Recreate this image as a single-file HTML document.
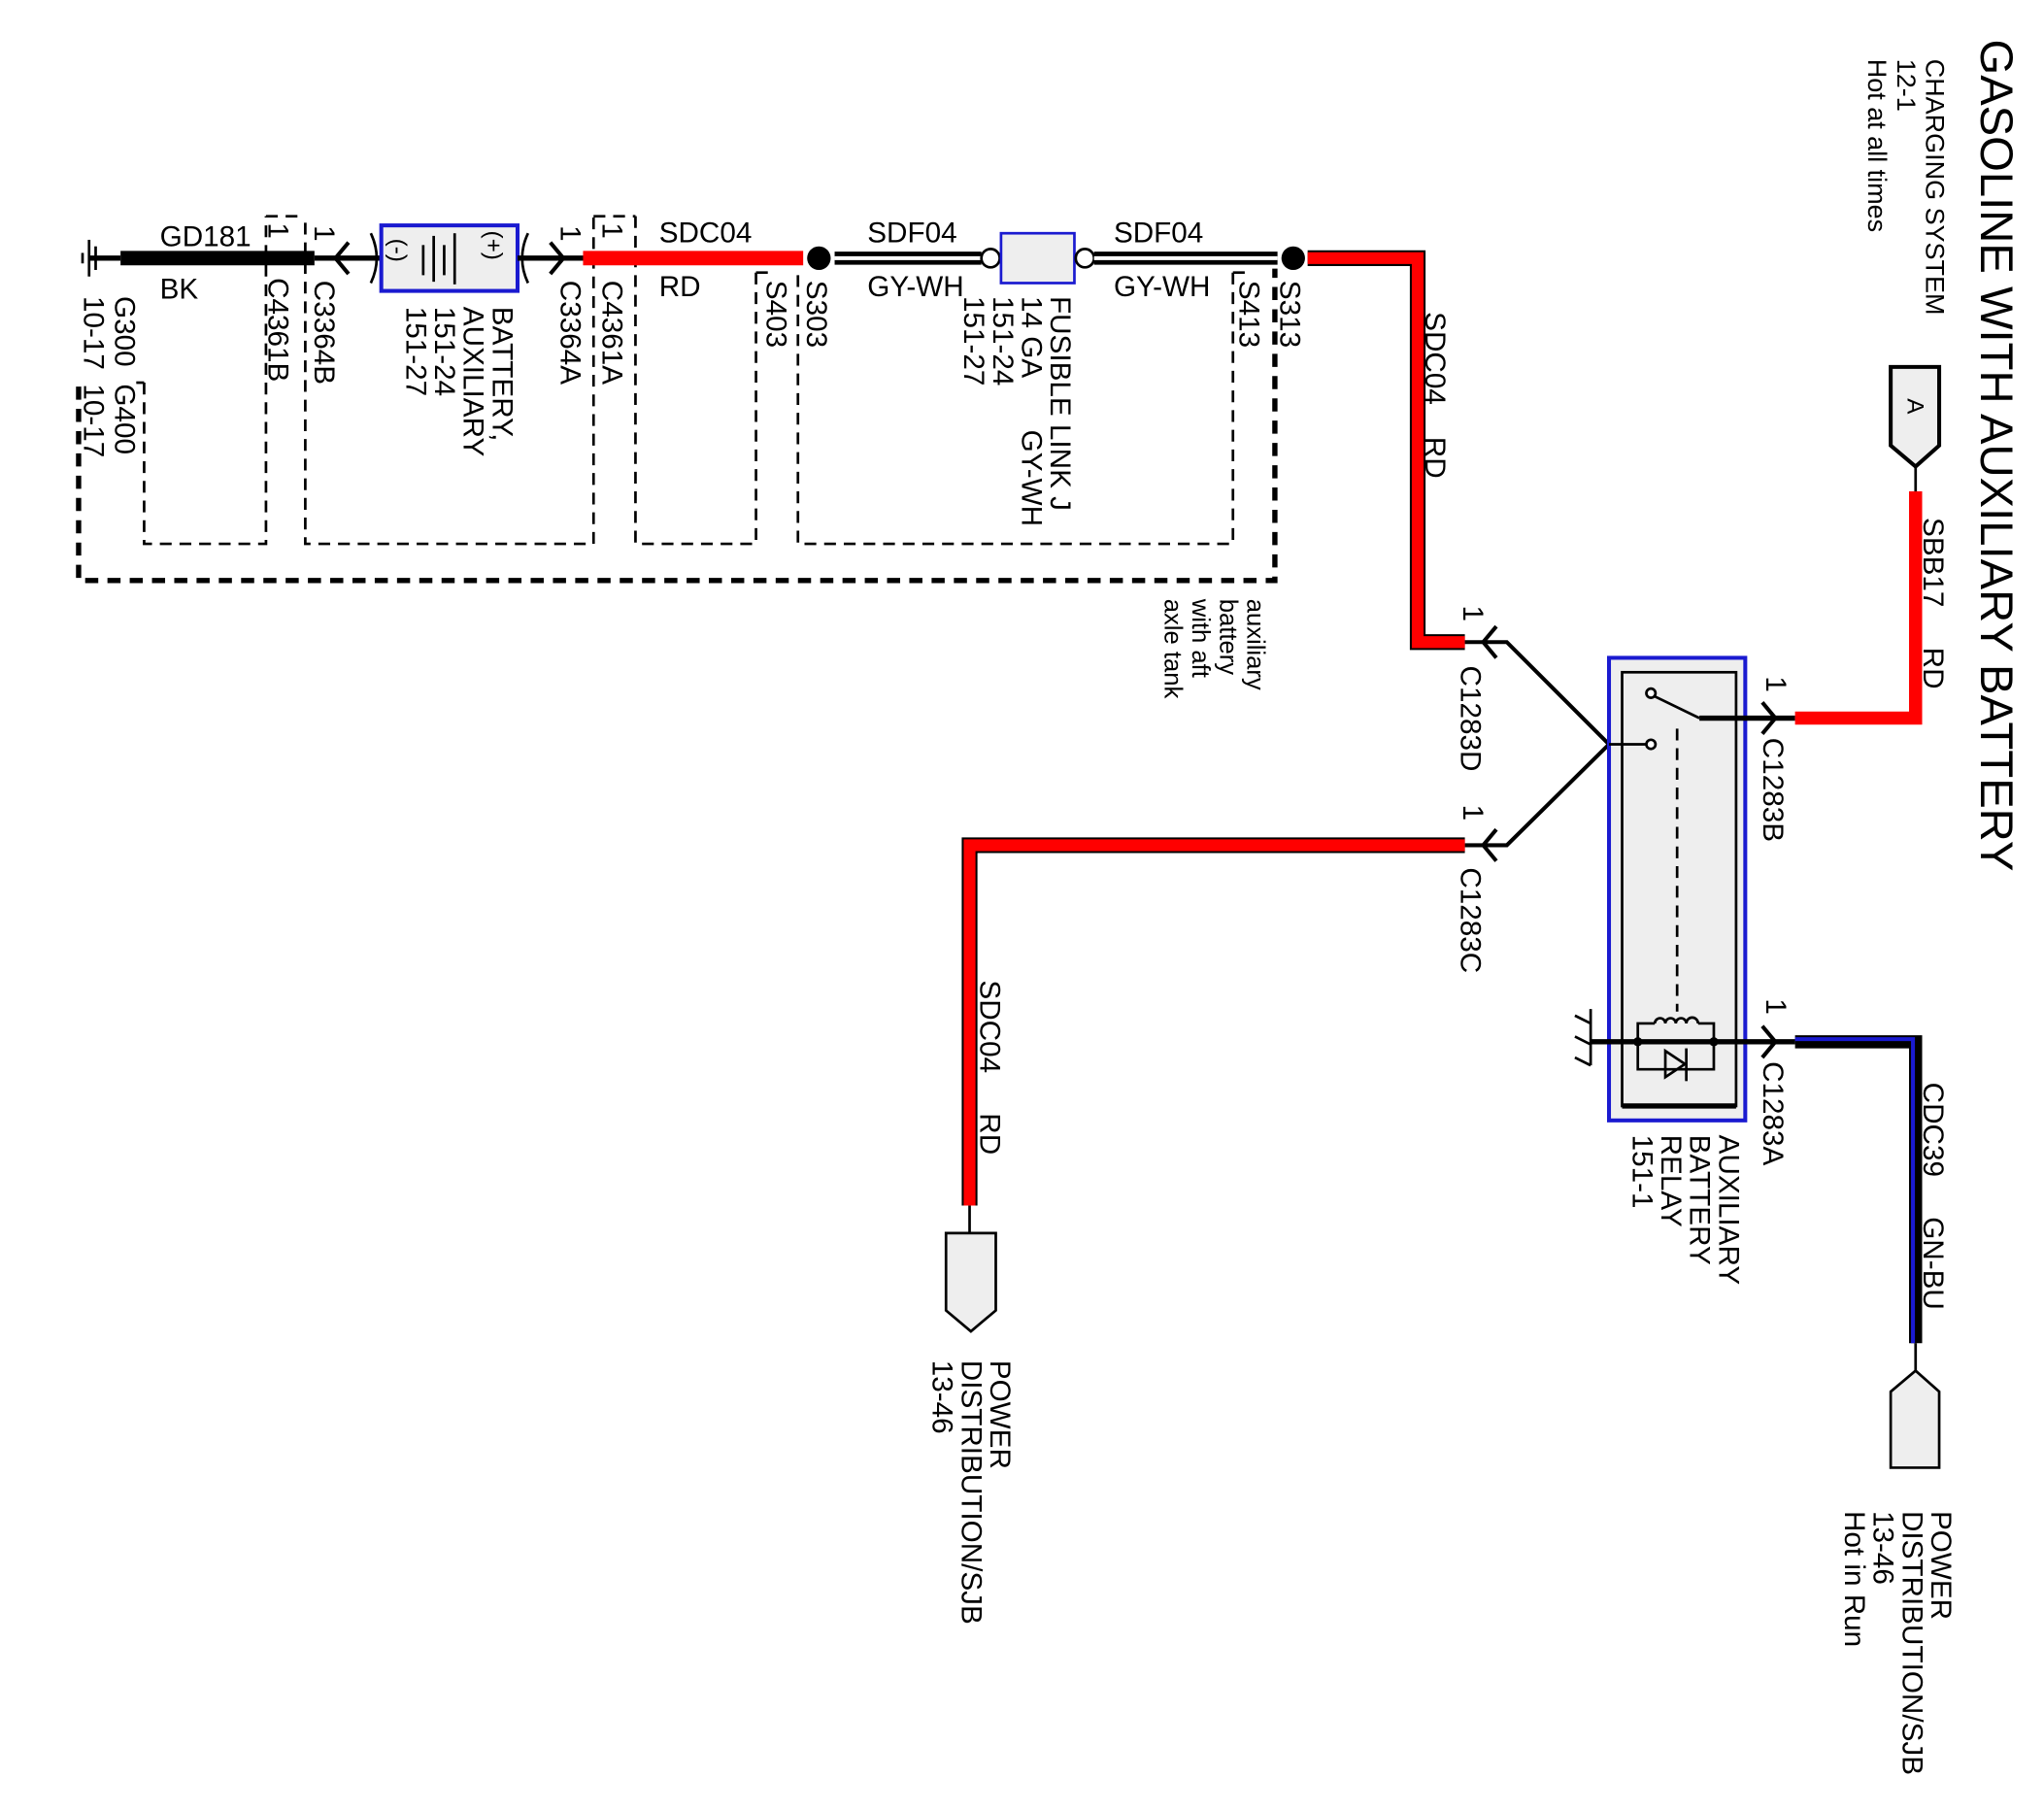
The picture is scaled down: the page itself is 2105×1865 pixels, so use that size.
<!DOCTYPE html>
<html><head><meta charset="utf-8"><style>
html,body{margin:0;padding:0;background:#fff;}
svg{display:block;}
text{font-family:"Liberation Sans",Arial,sans-serif;fill:#000;white-space:pre;}
</style></head><body>
<svg width="2105" height="1865" viewBox="0 0 1560 1382" preserveAspectRatio="none" xmlns="http://www.w3.org/2000/svg" font-size="22" xml:space="preserve">
<rect width="1560" height="1382" fill="#fff"/>
<g fill="none" stroke="#000" stroke-width="2" stroke-dasharray="9,6">
<path d="M110,292 V415 H203 V165"/>
<path d="M233,170 V415 H453 V165"/>
<path d="M485,165 V415 H577 V208"/>
<path d="M609,210 V415 H941 V208"/>
<path d="M203,165 H233 M453,165 H485 M577,208 H590 M941,208 H950"/>
</g>
<path d="M60,295 V443 H973 V205" fill="none" stroke="#000" stroke-width="4" stroke-dasharray="10,7"/>
<path d="M110,292 H104" stroke="#000" stroke-width="2"/>
<g stroke="#000" stroke-width="2">
<line x1="68" y1="183" x2="68" y2="211"/><line x1="73" y1="188" x2="73" y2="206"/><line x1="63" y1="193" x2="63" y2="201"/>
<line x1="68" y1="197" x2="92" y2="197" stroke-width="4"/>
</g>
<line x1="92" y1="197" x2="240" y2="197" stroke="#000" stroke-width="11"/>
<line x1="240" y1="197" x2="292" y2="197" stroke="#000" stroke-width="4"/>
<path d="M266,185 L256,197 L266,209" fill="none" stroke="#000" stroke-width="3"/>
<path d="M283,178 Q292,197 283,216" fill="none" stroke="#000" stroke-width="2"/>
<rect x="291" y="172" width="104" height="50" fill="#eee" stroke="#1a1ad0" stroke-width="3"/>
<g stroke="#000" stroke-width="2">
<line x1="323" y1="187" x2="323" y2="210"/><line x1="331" y1="180" x2="331" y2="215"/><line x1="339" y1="187" x2="339" y2="210"/><line x1="347" y1="178" x2="347" y2="217"/>
</g>
<text transform="translate(298,182) rotate(90)" font-size="18">(-)</text>
<text transform="translate(371,176) rotate(90)" font-size="18">(+)</text>
<line x1="395" y1="197" x2="447" y2="197" stroke="#000" stroke-width="4"/>
<path d="M403,178 Q394,197 403,216" fill="none" stroke="#000" stroke-width="2"/>
<path d="M420,185 L430,197 L420,209" fill="none" stroke="#000" stroke-width="3"/>
<line x1="445" y1="197" x2="613" y2="197" stroke="#f00" stroke-width="11"/>
<circle cx="625" cy="197" r="9" fill="#000"/>
<line x1="637" y1="197" x2="749" y2="197" stroke="#000" stroke-width="10"/>
<line x1="637" y1="197" x2="749" y2="197" stroke="#fff" stroke-width="3"/>
<circle cx="756" cy="197" r="7" fill="#fff" stroke="#000" stroke-width="2"/>
<rect x="764" y="178" width="56" height="38" fill="#eee" stroke="#1a1ad0" stroke-width="2"/>
<circle cx="828" cy="197" r="7" fill="#fff" stroke="#000" stroke-width="2"/>
<line x1="835" y1="197" x2="975" y2="197" stroke="#000" stroke-width="10"/>
<line x1="835" y1="197" x2="975" y2="197" stroke="#fff" stroke-width="3"/>
<circle cx="987" cy="197" r="9" fill="#000"/>
<path d="M998,197 H1082 V490 H1118" fill="none" stroke="#000" stroke-width="12"/>
<path d="M998,197 H1082 V490 H1118" fill="none" stroke="#f00" stroke-width="9"/>
<g fill="none" stroke="#000" stroke-width="3">
<path d="M1118,490 H1150 L1228,568 L1150,645 H1118"/>
<path d="M1142,478 L1132,490 L1142,502"/>
<path d="M1142,633 L1132,645 L1142,657"/>
</g>
<path d="M1118,645 H740 V920" fill="none" stroke="#000" stroke-width="12"/>
<path d="M1118,645 H740 V920" fill="none" stroke="#f00" stroke-width="9"/>
<line x1="740" y1="920" x2="740" y2="941" stroke="#000" stroke-width="2"/>
<path d="M722,941 H760 V1000 L741,1016 L722,1000 Z" fill="#eee" stroke="#000" stroke-width="2"/>
<rect x="1228" y="502" width="104" height="353" fill="#eee" stroke="#1a1ad0" stroke-width="3"/>
<rect x="1238" y="513" width="87" height="331" fill="#eee" stroke="#000" stroke-width="2"/>
<line x1="1238" y1="844" x2="1325" y2="844" stroke="#000" stroke-width="4"/>
<circle cx="1260" cy="529" r="3.5" fill="#fff" stroke="#000" stroke-width="2"/>
<line x1="1262" y1="531" x2="1297" y2="548" stroke="#000" stroke-width="2"/>
<line x1="1228" y1="568" x2="1257" y2="568" stroke="#000" stroke-width="2"/>
<circle cx="1260" cy="568" r="3.5" fill="#fff" stroke="#000" stroke-width="2"/>
<line x1="1297" y1="548" x2="1370" y2="548" stroke="#000" stroke-width="4"/>
<path d="M1345,536 L1355,548 L1345,560" fill="none" stroke="#000" stroke-width="3"/>
<line x1="1280" y1="556" x2="1280" y2="772" stroke="#000" stroke-width="2" stroke-dasharray="9,6"/>
<path d="M1370,548 H1462 V375" fill="none" stroke="#f00" stroke-width="10"/>
<line x1="1462" y1="375" x2="1462" y2="355" stroke="#000" stroke-width="2"/>
<path d="M1443,280 H1480 V340 L1462,356 L1443,340 Z" fill="#eee" stroke="#000" stroke-width="3"/>
<text transform="translate(1456,304) rotate(90)" font-size="18">A</text>
<g fill="none" stroke="#000" stroke-width="2">
<path d="M1250,795 V781 H1263 M1296,781 H1308 V795 M1250,795 V816 H1308 V795"/>
<path d="M1263,781 a4,4 0 0 1 8,0 a4,4 0 0 1 8,0 a4,4 0 0 1 8,0 a4,4 0 0 1 9,0"/>
<path d="M1271,802 L1286,812 L1271,822 Z"/>
<line x1="1287" y1="800" x2="1287" y2="825"/>
<path d="M1202,775 L1214,781 M1202,791 L1214,797 M1202,807 L1214,813 M1214,770 V813"/>
</g>
<line x1="1214" y1="795" x2="1370" y2="795" stroke="#000" stroke-width="4"/>
<circle cx="1250" cy="795" r="3.5" fill="#000"/><circle cx="1308" cy="795" r="3.5" fill="#000"/>
<path d="M1345,783 L1355,795 L1345,807" fill="none" stroke="#000" stroke-width="3"/>
<path d="M1370,795 H1462 V1025" fill="none" stroke="#000" stroke-width="10"/>
<path d="M1370,793 H1460 V1025" fill="none" stroke="#1a1ad0" stroke-width="3"/>
<line x1="1462" y1="1025" x2="1462" y2="1046" stroke="#000" stroke-width="2"/>
<path d="M1443,1120 H1480 V1062 L1462,1046 L1443,1062 Z" fill="#eee" stroke="#000" stroke-width="2"/>
<text x="122" y="188">GD181</text><text x="122" y="228">BK</text>
<text x="503" y="185">SDC04</text><text x="503" y="226">RD</text>
<text x="662" y="185">SDF04</text><text x="662" y="226">GY-WH</text>
<text x="850" y="185">SDF04</text><text x="850" y="226">GY-WH</text>
<g>
<text transform="translate(1512,30) rotate(90)" font-size="35" textLength="635" lengthAdjust="spacingAndGlyphs">GASOLINE WITH AUXILIARY BATTERY</text>
<text transform="translate(1470,45) rotate(90)" font-size="20">CHARGING SYSTEM</text>
<text transform="translate(1448,45) rotate(90)" font-size="20">12-1</text>
<text transform="translate(1426,45) rotate(90)" font-size="20">Hot at all times</text>
<text transform="translate(88,226) rotate(90)">G300</text>
<text transform="translate(64,226) rotate(90)">10-17</text>
<text transform="translate(88,293) rotate(90)">G400</text>
<text transform="translate(64,293) rotate(90)">10-17</text>
<text transform="translate(205,170) rotate(90)">1</text>
<text transform="translate(205,212) rotate(90)">C4361B</text>
<text transform="translate(240,172) rotate(90)">1</text>
<text transform="translate(240,214) rotate(90)">C3364B</text>
<text transform="translate(376,234) rotate(90)">BATTERY,</text>
<text transform="translate(354,234) rotate(90)">AUXILIARY</text>
<text transform="translate(332,234) rotate(90)">151-24</text>
<text transform="translate(310,234) rotate(90)">151-27</text>
<text transform="translate(428,172) rotate(90)">1</text>
<text transform="translate(428,214) rotate(90)">C3364A</text>
<text transform="translate(460,170) rotate(90)">1</text>
<text transform="translate(460,214) rotate(90)">C4361A</text>
<text transform="translate(585,214) rotate(90)">S403</text>
<text transform="translate(616,214) rotate(90)">S303</text>
<text transform="translate(802,226) rotate(90)">FUSIBLE LINK J</text>
<text transform="translate(780,226) rotate(90)">14 GA</text>
<text transform="translate(780,328) rotate(90)">GY-WH</text>
<text transform="translate(758,226) rotate(90)">151-24</text>
<text transform="translate(736,226) rotate(90)">151-27</text>
<text transform="translate(946,214) rotate(90)">S413</text>
<text transform="translate(977,214) rotate(90)">S313</text>
<text transform="translate(1088,238) rotate(90)">SDC04    RD</text>
<text transform="translate(952,457) rotate(90)" font-size="19">auxiliary</text>
<text transform="translate(931,457) rotate(90)" font-size="19">battery</text>
<text transform="translate(910,457) rotate(90)" font-size="19">with aft</text>
<text transform="translate(889,457) rotate(90)" font-size="19">axle tank</text>
<text transform="translate(1117,462) rotate(90)">1</text>
<text transform="translate(1115,508) rotate(90)">C1283D</text>
<text transform="translate(1117,614) rotate(90)">1</text>
<text transform="translate(1115,662) rotate(90)">C1283C</text>
<text transform="translate(1348,516) rotate(90)">1</text>
<text transform="translate(1346,563) rotate(90)">C1283B</text>
<text transform="translate(1348,762) rotate(90)">1</text>
<text transform="translate(1346,810) rotate(90)">C1283A</text>
<text transform="translate(1312,866) rotate(90)">AUXILIARY</text>
<text transform="translate(1290,866) rotate(90)">BATTERY</text>
<text transform="translate(1268,866) rotate(90)">RELAY</text>
<text transform="translate(1246,866) rotate(90)">151-1</text>
<text transform="translate(1468,395) rotate(90)">SBB17     RD</text>
<text transform="translate(1468,826) rotate(90)">CDC39     GN-BU</text>
<text transform="translate(748,748) rotate(90)">SDC04     RD</text>
<text transform="translate(756,1038) rotate(90)">POWER</text>
<text transform="translate(734,1038) rotate(90)">DISTRIBUTION/SJB</text>
<text transform="translate(712,1038) rotate(90)">13-46</text>
<text transform="translate(1474,1153) rotate(90)">POWER</text>
<text transform="translate(1452,1153) rotate(90)">DISTRIBUTION/SJB</text>
<text transform="translate(1430,1153) rotate(90)">13-46</text>
<text transform="translate(1408,1153) rotate(90)">Hot in Run</text>
</g>
</svg>
</body></html>
